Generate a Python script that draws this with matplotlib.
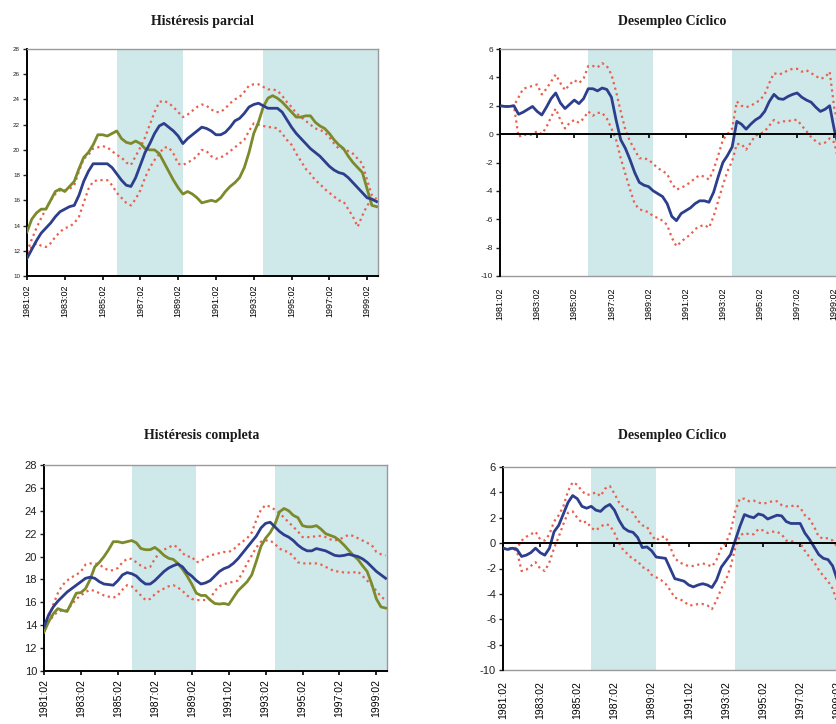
import matplotlib
matplotlib.use("Agg")
import matplotlib.pyplot as plt

plt.rcParams["axes.unicode_minus"] = False

# ---------------- data ----------------
quarters = list(range(75))           # 1981:02 ... 1999:04 (quarterly index)
tick_pos = [0, 8, 16, 24, 32, 40, 48, 56, 64, 72]
tick_labels = ["1981:02", "1983:02", "1985:02", "1987:02", "1989:02",
               "1991:02", "1993:02", "1995:02", "1997:02", "1999:02"]
shade_start = [19, 50]
shade_end = [33, 74.3]

# Histéresis parcial
hp_blue = [11.4, 12.1, 12.8, 13.4, 13.8, 14.2, 14.7, 15.1, 15.3, 15.5,
           15.6, 16.4, 17.5, 18.3, 18.9, 18.9, 18.9, 18.9, 18.6, 18.1,
           17.6, 17.2, 17.1, 17.8, 18.8, 19.8, 20.5, 21.3, 21.9, 22.1,
           21.8, 21.5, 21.1, 20.5, 20.9, 21.2, 21.5, 21.8, 21.7, 21.5,
           21.2, 21.2, 21.4, 21.8, 22.3, 22.5, 22.9, 23.4, 23.6, 23.7,
           23.5, 23.3, 23.3, 23.3, 23.0, 22.4, 21.8, 21.3, 20.9, 20.5,
           20.1, 19.8, 19.5, 19.1, 18.7, 18.4, 18.2, 18.1, 17.8, 17.4,
           17.0, 16.6, 16.2, 16.1, 15.9]
hp_green = [13.5, 14.5, 15.0, 15.3, 15.3, 16.0, 16.7, 16.9, 16.7, 17.1,
            17.5, 18.5, 19.4, 19.8, 20.4, 21.2, 21.2, 21.1, 21.3, 21.5,
            20.9, 20.6, 20.5, 20.7, 20.5, 20.1, 20.0, 20.0, 19.7, 19.0,
            18.3, 17.6, 17.0, 16.5, 16.7, 16.5, 16.2, 15.8, 15.9, 16.0,
            15.9, 16.2, 16.7, 17.1, 17.4, 17.8, 18.6, 19.8, 21.3, 22.2,
            23.4, 24.1, 24.3, 24.1, 23.8, 23.4, 23.0, 22.6, 22.6, 22.7,
            22.7, 22.2, 21.9, 21.7, 21.3, 20.8, 20.4, 20.1, 19.5, 19.0,
            18.6, 18.2, 16.9, 15.6, 15.5]
hp_upper = [11.9, 12.9, 13.8, 14.6, 15.3, 16.0, 16.5, 16.8, 16.8, 16.9,
            17.2, 18.3, 19.3, 19.6, 20.1, 20.2, 20.3, 20.2, 19.9, 19.6,
            19.4, 19.0, 18.8, 19.5, 20.2, 21.0, 22.0, 23.0, 23.8, 23.9,
            23.7, 23.4, 23.0, 22.6, 22.8, 23.1, 23.4, 23.6, 23.5, 23.2,
            23.0, 23.0, 23.3, 23.7, 24.0, 24.2, 24.6, 25.1, 25.2, 25.2,
            25.0, 24.8, 24.8, 24.7, 24.3, 23.8, 23.4, 22.9, 22.6, 22.3,
            22.0, 21.7, 21.6, 21.4, 21.0, 20.5, 20.1, 20.1, 19.9, 19.7,
            19.3, 18.9, 17.6, 16.4, 16.1]
hp_lower = [11.8, 12.3, 12.6, 12.4, 12.3, 12.6, 13.1, 13.5, 13.8, 13.9,
            14.2, 14.7, 15.8, 16.9, 17.5, 17.6, 17.6, 17.6, 17.2, 16.6,
            16.2, 15.8, 15.6, 16.1, 16.8, 17.8, 18.6, 19.2, 19.7, 20.2,
            20.2, 19.7, 18.9, 18.8, 19.0, 19.2, 19.5, 20.0, 19.9, 19.5,
            19.3, 19.4, 19.6, 19.9, 20.2, 20.5, 20.8, 21.5, 22.1, 22.0,
            21.9, 21.8, 21.8, 21.7, 21.3, 20.8, 20.4, 19.7, 19.1, 18.5,
            18.1, 17.6, 17.3, 16.9, 16.6, 16.3, 16.0, 15.9, 15.3, 14.7,
            13.9, 14.8, 15.6, 16.0, 16.1]

# Desempleo Cíclico (top)
dc1_blue = [2.0, 1.95, 1.95, 2.0, 1.4, 1.55, 1.75, 1.95, 1.6, 1.35,
            1.9, 2.5, 2.9, 2.2, 1.8, 2.1, 2.4, 2.15, 2.5, 3.2,
            3.2, 3.05, 3.25, 3.15, 2.6, 1.0, -0.4, -1.0, -1.8, -2.7,
            -3.4, -3.6, -3.7, -4.0, -4.2, -4.4, -4.9, -5.8, -6.1, -5.6,
            -5.4, -5.2, -4.9, -4.7, -4.7, -4.8, -4.1, -3.0, -2.0, -1.5,
            -0.9, 0.9, 0.7, 0.35, 0.7, 1.0, 1.2, 1.6, 2.3, 2.8,
            2.5, 2.45, 2.65, 2.8, 2.9, 2.6, 2.4, 2.25, 1.9, 1.6,
            1.75, 2.0, 0.3, -1.0, -2.0]
dc1_upper = [2.0, 1.95, 1.95, 2.0, 2.6, 3.2, 3.3, 3.4, 3.5, 2.8,
             3.2, 3.7, 4.2, 3.6, 3.1, 3.5, 3.8, 3.6, 3.9, 4.8,
             4.8, 4.7, 5.0, 4.8, 4.2, 3.0, 1.6, 0.3, -0.5, -1.1,
             -1.7, -1.7, -1.8, -2.1, -2.4, -2.6, -2.8, -3.5, -3.9, -3.8,
             -3.6, -3.4, -3.1, -2.9, -3.0, -3.2, -2.5, -1.5, -0.4, 0.0,
             0.4, 2.3, 2.0, 1.9, 2.0, 2.2, 2.4, 2.8, 3.6, 4.3,
             4.2, 4.3, 4.5, 4.6, 4.6, 4.4, 4.5, 4.3, 4.1, 3.9,
             4.0, 4.4, 1.8, 0.5, -0.5]
dc1_lower = [2.0, 1.95, 1.95, 2.0, -0.2, 0.0, -0.1, 0.0, 0.2, 0.0,
             0.5, 1.2, 1.8, 1.0, 0.4, 0.8, 1.0, 0.8, 1.1, 1.6,
             1.3, 1.5, 1.5, 1.1, 0.4, -0.4, -1.7, -2.8, -3.9, -4.9,
             -5.3, -5.4, -5.5, -5.8, -5.9, -6.1, -6.4, -7.3, -7.9, -7.6,
             -7.3, -7.1, -6.7, -6.5, -6.4, -6.6, -5.8, -4.7, -3.6, -2.6,
             -1.9, -0.7, -0.7, -1.1, -0.6, -0.1, 0.0, 0.2, 0.6, 1.0,
             0.8, 0.9, 0.9, 1.0, 1.0, 0.6, 0.2, -0.2, -0.5, -0.7,
             -0.6, -0.3, -0.6, -2.0, -3.0]

# Histéresis completa
hc_blue = [13.85, 14.9, 15.6, 16.1, 16.5, 16.9, 17.2, 17.5, 17.8, 18.1,
           18.2, 18.1, 17.8, 17.6, 17.55, 17.5, 17.9, 18.4, 18.6, 18.5,
           18.3, 17.9, 17.6, 17.6, 17.9, 18.3, 18.7, 19.0, 19.2, 19.35,
           19.1, 18.6, 18.3, 17.9, 17.6, 17.7, 17.9, 18.3, 18.7, 18.95,
           19.1, 19.4, 19.8, 20.3, 20.8, 21.3, 21.8, 22.5, 22.9, 23.0,
           22.6, 22.2, 21.9, 21.7, 21.4, 21.0, 20.7, 20.5, 20.5, 20.7,
           20.6, 20.5, 20.3, 20.1, 20.05, 20.1, 20.2, 20.1, 20.0, 19.8,
           19.5, 19.1, 18.7, 18.4, 18.1]
hc_green = [13.4, 14.3, 15.0, 15.45, 15.3, 15.2, 16.0, 16.8, 16.85, 17.2,
            18.0, 19.1, 19.5, 20.0, 20.6, 21.3, 21.3, 21.2, 21.3, 21.4,
            21.2, 20.7, 20.6, 20.6, 20.8, 20.5, 20.1, 19.85, 19.75, 19.4,
            18.9, 18.3, 17.6, 16.8, 16.6, 16.6, 16.2, 15.9, 15.85, 15.9,
            15.8, 16.4, 17.0, 17.4, 17.8, 18.4, 19.6, 20.9, 21.6, 22.1,
            22.8, 23.9, 24.2, 24.0, 23.6, 23.4, 22.7, 22.6, 22.6, 22.7,
            22.4, 22.0, 21.85, 21.7, 21.4, 21.0, 20.55, 20.1, 19.75, 19.2,
            18.7, 17.6, 16.3, 15.6, 15.5]
hc_upper = [13.9, 14.6, 15.8, 16.8, 17.5, 17.9, 18.2, 18.4, 18.7, 19.3,
            19.4, 19.4, 19.3, 19.0, 18.8, 18.8, 19.0, 19.5, 19.8, 19.8,
            19.5, 19.2, 19.0, 19.1, 19.8, 20.3, 20.6, 20.8, 21.0, 20.8,
            20.3, 20.0, 20.0, 19.5, 19.6, 19.9, 20.1, 20.2, 20.3, 20.4,
            20.4, 20.6, 21.0, 21.3, 21.6, 22.1, 23.2, 24.1, 24.5, 24.35,
            24.1, 23.8, 23.4, 23.0, 22.6, 22.2, 21.7, 21.7, 21.7, 21.8,
            21.8, 21.7, 21.5, 21.4, 21.5, 21.7, 21.9, 21.8, 21.6, 21.4,
            21.2, 21.0, 20.4, 20.2, 20.1]
hc_lower = [13.8, 14.3, 14.8, 15.2, 15.3, 15.3, 15.8, 16.3, 16.6, 16.9,
            17.1, 17.0, 16.8, 16.6, 16.5, 16.4, 16.6, 17.1, 17.5, 17.4,
            17.0, 16.6, 16.2, 16.3, 16.7, 17.0, 17.2, 17.4, 17.5, 17.3,
            17.0, 16.6, 16.3, 16.2, 16.2, 16.2, 16.3, 17.0, 17.4, 17.6,
            17.7, 17.8, 17.9, 18.6, 19.4, 20.1, 20.8, 21.3, 21.4, 21.4,
            21.1, 20.7, 20.5, 20.4, 20.0, 19.5, 19.4, 19.4, 19.4, 19.4,
            19.3, 19.1, 18.9, 18.7, 18.7, 18.6, 18.6, 18.6, 18.7, 18.3,
            17.9, 17.5, 17.0, 16.5, 16.2]

# Desempleo Cíclico (bottom)
dc2_blue = [-0.4, -0.5, -0.4, -0.5, -1.05, -0.95, -0.75, -0.4, -0.75, -0.95,
            -0.4, 0.9, 1.4, 2.3, 3.2, 3.75, 3.5, 2.9, 2.75, 2.9,
            2.6, 2.5, 2.85, 3.05, 2.6, 1.8, 1.2, 0.95, 0.85, 0.45,
            -0.35, -0.3, -0.6, -1.1, -1.15, -1.2, -2.0, -2.8, -2.9, -3.0,
            -3.3, -3.45, -3.3, -3.2, -3.3, -3.5, -2.9, -1.9, -1.4, -0.9,
            0.2, 1.3, 2.25, 2.1, 2.0, 2.3, 2.2, 1.9, 2.05, 2.2,
            2.15, 1.7, 1.55, 1.55, 1.55, 0.8, 0.3, -0.3, -0.9, -1.2,
            -1.3, -1.8, -2.9, -3.3, -3.5]
dc2_upper = [-0.4, -0.45, -0.35, -0.4, 0.2, 0.5, 0.7, 0.9, 0.3, 0.2,
             0.7, 1.7, 2.2, 2.9, 4.1, 4.8, 4.6, 4.1, 3.8, 3.85,
             4.0, 3.7, 4.3, 4.5, 3.9, 3.2, 2.8, 2.6, 2.4, 1.8,
             1.4, 1.3, 0.6, 0.2, 0.5, 0.5, -0.3, -1.2, -1.5, -1.7,
             -1.8, -1.8, -1.7, -1.6, -1.7, -1.85, -1.3, -0.4, 0.0, 0.9,
             2.5, 3.5, 3.5, 3.3, 3.35, 3.2, 3.1, 3.2, 3.3, 3.3,
             3.0, 2.9, 2.9, 3.0, 2.8, 2.2, 1.9, 1.3, 0.5, 0.35,
             0.4, 0.2, -0.3, -0.7, -1.0]
dc2_lower = [-0.4, -0.5, -0.4, -0.6, -2.2, -2.1, -1.8, -1.5, -2.0, -2.2,
             -1.5, -0.4, 0.5, 1.5, 2.4, 2.5, 2.0, 1.6, 1.7, 1.2,
             1.0, 1.3, 1.5, 1.4, 0.8, 0.0, -0.6, -0.9, -1.3, -1.4,
             -1.9, -2.0, -2.5, -2.7, -2.9, -3.2, -3.7, -4.3, -4.4, -4.6,
             -4.9, -4.9, -4.8, -4.8, -4.9, -5.2, -4.5, -3.6, -2.9, -1.9,
             -0.4, 0.6, 0.8, 0.7, 0.7, 1.1, 1.0, 0.8, 0.9, 0.9,
             0.7, 0.2, 0.2, 0.0, 0.0, -0.6, -1.1, -1.5, -2.1, -2.6,
             -3.0, -3.6, -4.7, -5.0, -5.3]

titles = ["Histéresis parcial", "Desempleo Cíclico",
          "Histéresis completa", "Desempleo Cíclico"]

# ---------------- style ----------------
BLUE = "#2c3e8c"
GREEN = "#7c8a2c"
RED = "#e8604e"
SHADE = "#cfe8ea"
GRAY = "#9a9a9a"
TICKFONT = ["Liberation Sans Narrow", "Liberation Sans", "DejaVu Sans"]

W, H = 837, 724
fig = plt.figure(figsize=(W / 100, H / 100), dpi=100)
fig.patch.set_facecolor("white")


def px_axes(x0, y0, x1, y1):
    return fig.add_axes([x0 / W, 1 - y1 / H, (x1 - x0) / W, (y1 - y0) / H])


def common(ax, upper, lower, blue, green=None):
    for s, e in zip(shade_start, shade_end):
        ax.axvspan(s, e, color=SHADE, lw=0, zorder=0)
    ax.plot(quarters, upper, color=RED, lw=1.6, ls=(0, (1, 1.6)), zorder=2)
    ax.plot(quarters, lower, color=RED, lw=1.6, ls=(0, (1, 1.6)), zorder=2)
    if green is not None:
        ax.plot(quarters, green, color=GREEN, lw=2.0, zorder=3)
    ax.plot(quarters, blue, color=BLUE, lw=2.0, zorder=4)
    ax.set_xlim(0, 74.3)
    ax.set_facecolor("white")
    ax.spines["top"].set_color(GRAY)
    ax.spines["right"].set_color(GRAY)
    ax.spines["top"].set_linewidth(1.0)
    ax.spines["right"].set_linewidth(1.0)
    ax.spines["left"].set_color("black")
    ax.spines["left"].set_linewidth(1.4)


def hyst(ax, ysize, xsize):
    ax.set_ylim(10, 28)
    ax.set_yticks(list(range(10, 29, 2)))
    ax.spines["bottom"].set_color("black")
    ax.spines["bottom"].set_linewidth(1.4)
    ax.set_xticks(tick_pos)
    ax.set_xticklabels(tick_labels, rotation=90, fontsize=xsize, family=TICKFONT)
    ax.tick_params(axis="x", length=3, width=1.2, pad=3, colors="black")
    ax.tick_params(axis="y", length=3, width=1.0, pad=2, labelsize=ysize, colors="#222222")
    for lab in ax.get_yticklabels():
        lab.set_family(TICKFONT)


def cyc(ax, ysize, xsize):
    ax.set_ylim(-10, 6)
    ax.set_yticks(list(range(-10, 7, 2)))
    ax.spines["bottom"].set_position(("data", 0))
    ax.spines["bottom"].set_color("black")
    ax.spines["bottom"].set_linewidth(1.4)
    ax.spines["bottom"].set_zorder(5)
    ax.set_xticks(tick_pos)
    ax.tick_params(axis="x", length=3, width=1.2, labelbottom=False)
    ax.tick_params(axis="y", length=3, width=1.0, pad=2, labelsize=ysize, colors="#222222")
    for lab in ax.get_yticklabels():
        lab.set_family(TICKFONT)
    sec = ax.secondary_xaxis("bottom")
    sec.set_xticks(tick_pos)
    sec.set_xticklabels(tick_labels, rotation=90, fontsize=xsize, family=TICKFONT)
    sec.tick_params(length=0, pad=8)
    sec.spines["bottom"].set_color(GRAY)
    sec.spines["bottom"].set_linewidth(1.0)


# panel 1
ax1 = px_axes(27, 49, 378, 276)
common(ax1, hp_upper, hp_lower, hp_blue, hp_green)
hyst(ax1, 4.5, 6.5)
# panel 2
ax2 = px_axes(500, 49, 845, 276)
common(ax2, dc1_upper, dc1_lower, dc1_blue)
cyc(ax2, 6, 6.5)
# panel 3
ax3 = px_axes(44, 465, 387, 671)
common(ax3, hc_upper, hc_lower, hc_blue, hc_green)
hyst(ax3, 8, 7.5)
# panel 4
ax4 = px_axes(503, 467, 848, 670)
common(ax4, dc2_upper, dc2_lower, dc2_blue)
cyc(ax4, 8, 7.5)

title_pos = [(202, 22), (672, 22), (202, 435), (672, 435)]
for t, (tx, ty) in zip(titles, title_pos):
    fig.text(tx / W, 1 - ty / H, t, ha="center", va="center",
             fontsize=10, fontweight="bold", family=["Liberation Serif", "DejaVu Serif"],
             color="#1a1a1a")

fig.savefig("out.png", dpi=100, facecolor="white")
